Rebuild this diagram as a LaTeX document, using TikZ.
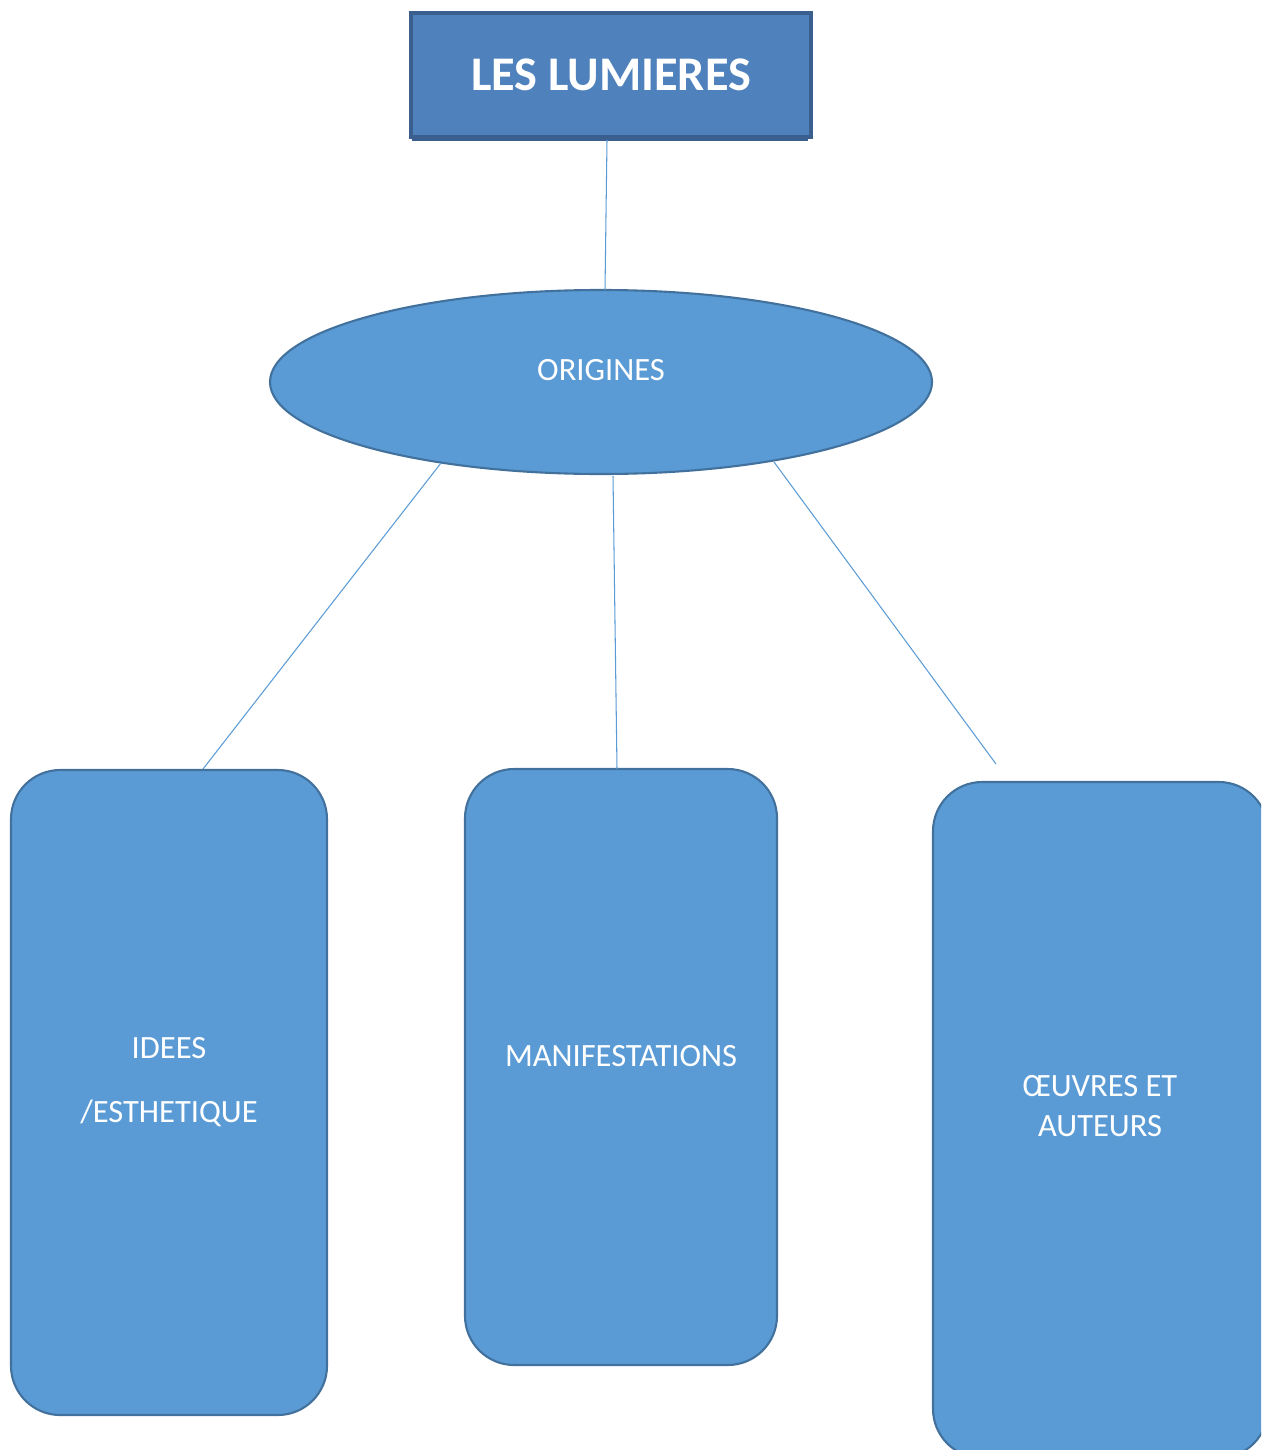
\documentclass[tikz,border=0pt]{standalone}
\usepackage{fontspec}
\setmainfont{Carlito}
\usetikzlibrary{shapes.geometric}
\definecolor{titlefill}{HTML}{4F81BD}
\definecolor{titleborder}{HTML}{3A5F8E}
\definecolor{boxfill}{HTML}{5B9BD5}
\definecolor{boxborder}{HTML}{41719C}
\definecolor{linkcol}{HTML}{5B9BD5}
\begin{document}
\begin{tikzpicture}[x=0.02cm,y=-0.02cm,
  titlebox/.style={draw=titleborder,line width=2.2pt,fill=titlefill,text=white,font=\bfseries\fontsize{27.5}{32}\selectfont,minimum width=400*0.02cm,minimum height=124*0.02cm,inner sep=0pt},
  ovalbox/.style={ellipse,draw=boxborder,line width=1.2pt,fill=boxfill,text=white,minimum width=662*0.02cm,minimum height=184*0.02cm,inner sep=0pt},
  roundbox/.style={draw=boxborder,line width=1.2pt,fill=boxfill,rounded corners=28pt},
  boxtext/.style={text=white,font=\fontsize{18.5}{22}\selectfont,align=center},
  link/.style={draw=linkcol,line width=0.6pt}]
\useasboundingbox (0,0) rectangle (1261,1450);
\clip (0,0) rectangle (1261,1450);
% title
\draw[titleborder,line width=2pt] (412,139) -- (808,139);
\node[titlebox] (title) at (611,75) {LES LUMIERES};
% ellipse
\node[ovalbox] (orig) at (601,382) {};
\node[boxtext] (origt) at (601,370) {ORIGINES};
% boxes
\draw[roundbox] (11,770) rectangle (327,1415);
\draw[roundbox] (465,769) rectangle (777,1365);
\draw[roundbox] (933,782) rectangle (1268,1458);
\node[boxtext] (idees) at (169,1048) {IDEES};
\node[boxtext] (esth) at (169,1113) {/ESTHETIQUE};
\node[boxtext] (manif) at (621,1056) {MANIFESTATIONS};
\node[boxtext] (oeuv) at (1100,1106) {ŒUVRES ET\\[1pt]AUTEURS};
% links
\coordinate (ltop) at (607,140);
\coordinate (otop) at (605,290);
\coordinate (ol) at (441,463);
\coordinate (lb) at (203,769);
\coordinate (om) at (613,476);
\coordinate (mb) at (617,769);
\coordinate (or) at (774,462);
\coordinate (rend) at (996,764);
\draw[link] (ltop) -- (otop);
\draw[link] (ol) -- (lb);
\draw[link] (om) -- (mb);
\draw[link] (or) -- (rend);
\end{tikzpicture}
\end{document}
